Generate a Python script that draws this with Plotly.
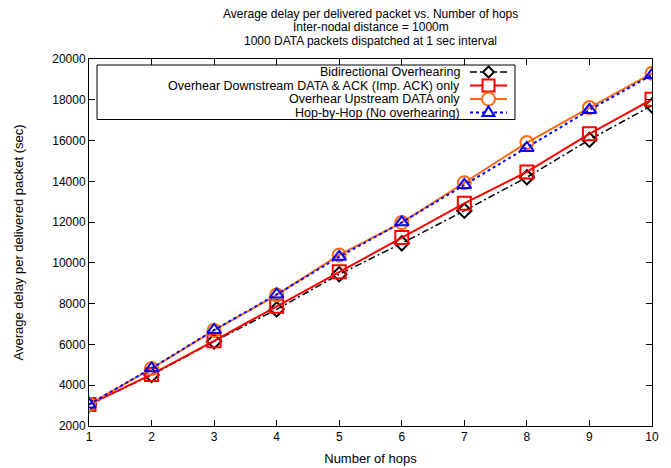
import plotly.graph_objects as go

hops = [1, 2, 3, 4, 5, 6, 7, 8, 9, 10]
bidirectional = [3050, 4500, 6150, 7720, 9440, 10960, 12560, 14200, 16040, 17720]
downstream = [3050, 4530, 6180, 7870, 9560, 11250, 12920, 14460, 16330, 18020]
upstream = [3060, 4820, 6690, 8430, 10390, 11980, 13930, 15900, 17620, 19300]
hop_by_hop = [3060, 4830, 6710, 8450, 10300, 11990, 13820, 15640, 17500, 19220]

names = [
    "Bidirectional Overhearing",
    "Overhear Downstream DATA & ACK (Imp. ACK) only",
    "Overhear Upstream DATA only",
    "Hop-by-Hop (No overhearing)",
]
title_lines = [
    "Average delay per delivered packet vs. Number of hops",
    "Inter-nodal distance = 1000m",
    "1000 DATA packets dispatched at 1 sec interval",
]

FONT = "Liberation Sans, Arial, sans-serif"
W, H = 671, 468
ML, MR, MT, MB = 89, 19, 59, 42
PW, PH = W - ML - MR, H - MT - MB


def px(x):
    return (x - ML) / PW


def py(y):
    return (H - MB - y) / PH


styles = [
    dict(color="black", dash="7px,3px,2px,3px", width=1.5, symbol="diamond-open", size=11),
    dict(color="#ff0000", dash="solid", width=2, symbol="square-open", size=13),
    dict(color="#ff6a10", dash="solid", width=2, symbol="circle-open", size=13),
    dict(color="#0000ff", dash="dot", width=2, symbol="triangle-up-open", size=12),
]
series = [bidirectional, downstream, upstream, hop_by_hop]

fig = go.Figure()
for name, ys, st in zip(names, series, styles):
    fig.add_trace(go.Scatter(
        x=hops, y=ys, name=name, mode="lines+markers", showlegend=False,
        line=dict(color=st["color"], width=st["width"], dash=st["dash"]),
        marker=dict(symbol=st["symbol"], size=st["size"], color=st["color"],
                    line=dict(width=2, color=st["color"])),
    ))

axis_common = dict(
    showline=True, linecolor="black", linewidth=1, mirror="allticks",
    ticks="inside", ticklen=6, tickcolor="black", tickwidth=1,
    showgrid=False, zeroline=False, automargin=False,
    tickfont=dict(family=FONT, size=12, color="black"),
)

annotations = []
shapes = []
# title lines
for i, t in enumerate(title_lines):
    annotations.append(dict(
        text=t, xref="paper", yref="paper", x=px((ML + W - MR) / 2), y=py(14 + i * 13.5),
        xanchor="center", yanchor="middle", showarrow=False, borderpad=0,
        font=dict(family=FONT, size=12, color="black"),
    ))

# legend box (gnuplot style: text right-aligned, sample on the right)
row_y = [72, 85.5, 99, 112.5]
shapes.append(dict(type="rect", xref="paper", yref="paper",
                   x0=px(97), x1=px(515), y0=py(65), y1=py(119.5),
                   line=dict(color="black", width=1), fillcolor="white", layer="above"))
for name, st, ry in zip(names, styles, row_y):
    annotations.append(dict(
        text=name, xref="paper", yref="paper", x=px(461), y=py(ry),
        xanchor="right", yanchor="middle", showarrow=False, borderpad=0,
        font=dict(family=FONT, size=12.5, color="black"),
    ))
    shapes.append(dict(type="line", xref="paper", yref="paper",
                       x0=px(470), x1=px(507), y0=py(ry), y1=py(ry), layer="above",
                       line=dict(color=st["color"], width=st["width"], dash=st["dash"])))
    cx, cy = 488.5, ry
    s = st["size"] / 2
    lw = dict(color=st["color"], width=2)
    if st["symbol"].startswith("diamond"):
        path = (f"M {px(cx)} {py(cy - s)} L {px(cx + s)} {py(cy)} "
                f"L {px(cx)} {py(cy + s)} L {px(cx - s)} {py(cy)} Z")
        shapes.append(dict(type="path", xref="paper", yref="paper", path=path,
                           line=lw, fillcolor="white", layer="above"))
    elif st["symbol"].startswith("square"):
        shapes.append(dict(type="rect", xref="paper", yref="paper",
                           x0=px(cx - s + 0.5), x1=px(cx + s - 0.5), y0=py(cy - s + 0.5), y1=py(cy + s - 0.5),
                           line=lw, fillcolor="white", layer="above"))
    elif st["symbol"].startswith("circle"):
        shapes.append(dict(type="circle", xref="paper", yref="paper",
                           x0=px(cx - s), x1=px(cx + s), y0=py(cy - s), y1=py(cy + s),
                           line=lw, fillcolor="white", layer="above"))
    else:
        path = (f"M {px(cx)} {py(cy - s)} L {px(cx + s)} {py(cy + s * 0.6)} "
                f"L {px(cx - s)} {py(cy + s * 0.6)} Z")
        shapes.append(dict(type="path", xref="paper", yref="paper", path=path,
                           line=lw, fillcolor="white", layer="above"))

fig.update_layout(
    width=W, height=H,
    margin=dict(l=ML, r=MR, t=MT, b=MB),
    paper_bgcolor="white", plot_bgcolor="white",
    font=dict(family=FONT, size=12, color="black"),
    xaxis=dict(
        range=[1, 10], dtick=1, tick0=1,
        title=dict(text="Number of hops", font=dict(family=FONT, size=13), standoff=10),
        **axis_common,
    ),
    yaxis=dict(
        range=[2000, 20000], dtick=2000, tick0=2000, tickformat="d",
        title=dict(text="Average delay per delivered packet (sec)", font=dict(family=FONT, size=13), standoff=25),
        **axis_common,
    ),
    annotations=annotations,
    shapes=shapes,
    showlegend=False,
)

fig.write_html("out.html", post_script="document.body.style.margin='0';",
               config={"displayModeBar": False})
